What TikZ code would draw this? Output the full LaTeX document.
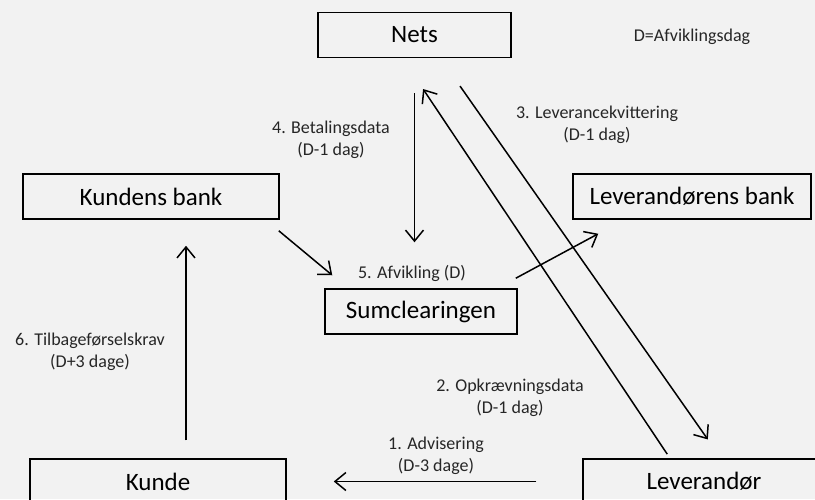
\documentclass[tikz,border=0pt]{standalone}
\usepackage{fontspec}
\setmainfont{Carlito}
\usepackage{tikz}
\usetikzlibrary{shapes, arrows.meta}
\tikzstyle{party} = [rectangle, inner sep=0pt, minimum height=45pt, text centered, draw=black, line width=1.5pt, font=\fontsize{25}{30}\selectfont]
\tikzstyle{lbl} = [align=center, text=black!85, inner sep=0pt, font=\fontsize{18}{22}\selectfont]
\tikzstyle{arrow} = [line width=1.5pt, -{Straight Barb[length=11pt,width=18pt]}]

\begin{document}
\begin{tikzpicture}[x=1pt, y=-1pt]
\fill[black!5] (0,0) rectangle (815,499);
\useasboundingbox (0,0) rectangle (815,499);
\clip (0,0) rectangle (815,499);

\node (nets) [party, minimum width=193pt] at (414.5,35) {Nets};
\node (kbank) [party, minimum width=256pt] at (151,196.5) {Kundens bank};
\node (lbank) [party, minimum width=238pt] at (692,196.5) {Leverandørens bank};
\node (sum) [party, minimum width=192pt] at (421,311.5) {Sumclearingen};
\node (kunde) [party, minimum width=256pt] at (158,481.5) {Kunde};
\node (lev) [party, minimum width=242pt] at (704,481.5) {Leverandør};

%---------------------------------LABELS
\node (note) [lbl] at (692,37) {D=Afviklingsdag};
\node (lbl1) [lbl] at (436,456) {1. Advisering\\(D-3 dage)};
\node (lbl2) [lbl] at (510,398) {2. Opkrævningsdata\\(D-1 dag)};
\node (lbl3) [lbl] at (597,125) {3. Leverancekvittering\\(D-1 dag)};
\node (lbl4) [lbl] at (331,140) {4. Betalingsdata\\(D-1 dag)};
\node (lbl5) [lbl] at (412,273) {5. Afvikling (D)};
\node (lbl6) [lbl] at (90,352) {6. Tilbageførselskrav\\(D+3 dage)};

%---------------------------------ARROWS
\draw [arrow, shorten <=46pt, shorten >=47pt] (lev.west) -- (kunde.east);
\draw [arrow, shorten <=5pt, shorten >=37pt] ([xshift=-34pt]lev.north) -- ([xshift=-12pt]nets.south);
\draw [arrow, shorten <=34pt, shorten >=23pt] ([xshift=26pt]nets.south) -- ([xshift=17pt]lev.north);
\draw [arrow, shorten <=35pt, shorten >=46pt] (nets.south) -- (nets.south |- sum.north);
\draw [arrow] ([xshift=-1pt,yshift=-11pt]kbank.south east) -- ([xshift=8pt,yshift=13pt]sum.north west);
\draw [arrow] ([xshift=-2pt,yshift=10pt]sum.north east) -- ([xshift=26pt,yshift=-14pt]lbank.south west);
\draw [arrow, shorten <=18pt, shorten >=26pt] ([xshift=28pt]kunde.north) -- ([xshift=28pt]kunde.north |- kbank.south);

\end{tikzpicture}
\end{document}
